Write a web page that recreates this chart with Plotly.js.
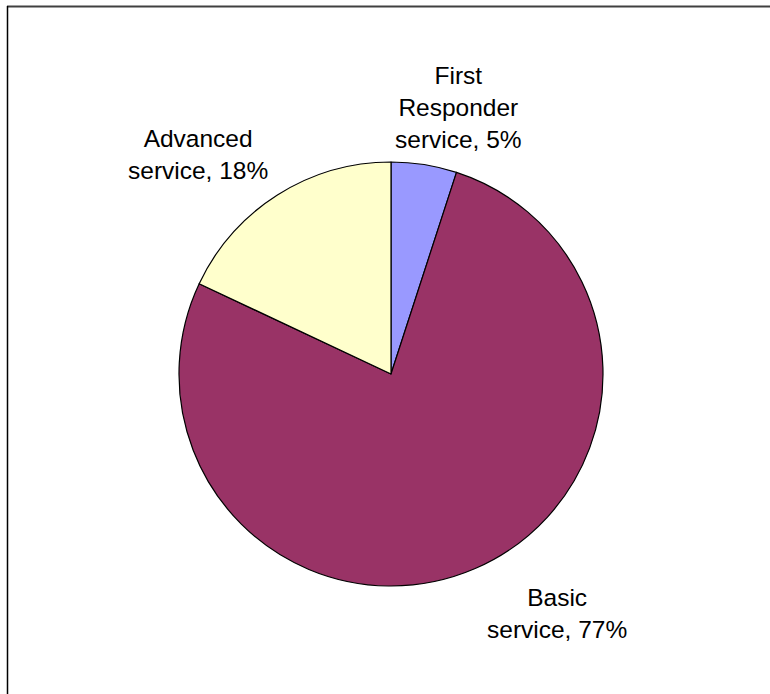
<!DOCTYPE html>
<html>
<head>
<meta charset="utf-8">
<script src="https://cdn.plot.ly/plotly-3.0.1.min.js"></script>
<style>
  html, body { margin: 0; padding: 0; background: #ffffff; }
  #chart { width: 770px; height: 694px; }
</style>
</head>
<body>
<div id="chart"></div>
<script>
// Data
const categories = ["First Responder service", "Basic service", "Advanced service"];
const labelLines = [["First", "Responder", "service"], ["Basic", "service"], ["Advanced", "service"]];
const shares = [5, 77, 18];
const sliceColors = ["#9999FF", "#993366", "#FFFFCC"];

// Label placement (layout only, paper pixels)
const W = 770, H = 694;
const labelPos = [[458, 107], [557, 613], [198, 154]];

const trace = {
  type: "pie",
  labels: categories,
  values: shares,
  sort: false,
  direction: "clockwise",
  rotation: 0,
  textinfo: "none",
  hoverinfo: "label+percent",
  marker: { colors: sliceColors, line: { color: "#000000", width: 1.2 } },
  domain: { x: [179 / W, 603 / W], y: [(H - 586) / H, (H - 162) / H] },
  showlegend: false
};

const annotations = categories.map((c, i) => {
  const lines = labelLines[i].slice();
  lines[lines.length - 1] = lines[lines.length - 1] + ", " + shares[i] + "%";
  return {
    xref: "paper", yref: "paper",
    x: labelPos[i][0] / W, y: 1 - labelPos[i][1] / H,
    xanchor: "center", yanchor: "middle",
    text: lines.join("<br>"),
    showarrow: false,
    align: "center",
    font: { family: "Liberation Sans, Arial, sans-serif", size: 24.5, color: "#000000" }
  };
});

const layout = {
  width: W, height: H,
  margin: { l: 0, r: 0, t: 0, b: 0 },
  paper_bgcolor: "#ffffff",
  annotations: annotations,
  shapes: [
    { type: "line", xref: "paper", yref: "paper", x0: 7 / W, x1: 1, y0: 1 - 6.5 / H, y1: 1 - 6.5 / H,
      line: { color: "#404040", width: 2 } },
    { type: "line", xref: "paper", yref: "paper", x0: 7.5 / W, x1: 7.5 / W, y0: 0, y1: 1 - 6 / H,
      line: { color: "#000000", width: 1.5 } }
  ]
};

Plotly.newPlot("chart", [trace], layout, { displayModeBar: false, staticPlot: true });
</script>
</body>
</html>
